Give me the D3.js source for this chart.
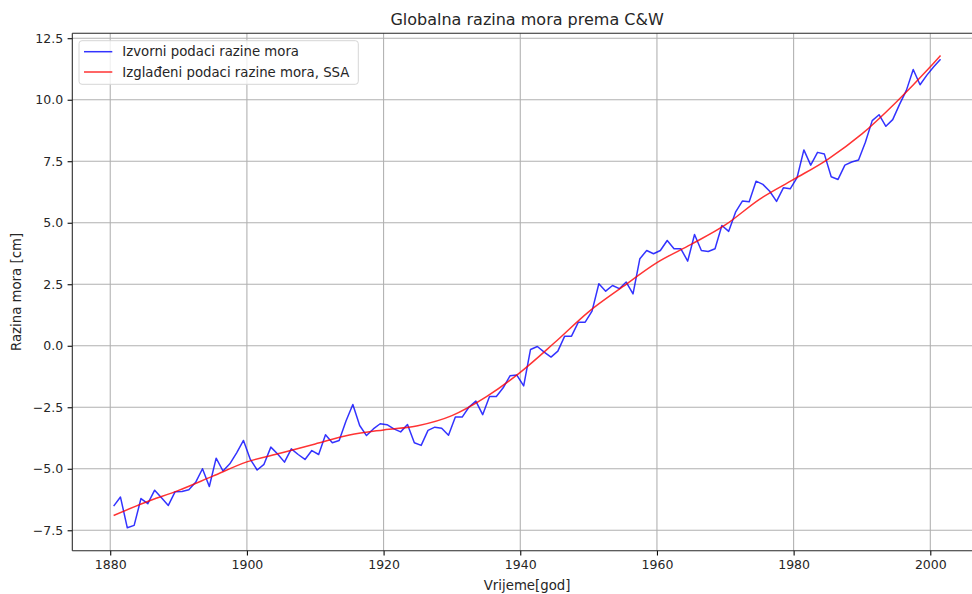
<!DOCTYPE html>
<html>
<head>
<meta charset="utf-8">
<script src="https://cdn.jsdelivr.net/npm/d3@7/dist/d3.min.js"></script>
<style>
  html, body { margin: 0; padding: 0; background: #fff; }
  svg { display: block; font-family: "DejaVu Sans", sans-serif; }
</style>
</head>
<body>
<svg id="chart" width="972" height="594"></svg>
<script>
// ---- data ----
const firstYear = 1880.5;
const seaLevel = [
  -6.52, -6.15, -7.40, -7.30, -6.21, -6.42, -5.87, -6.18, -6.49, -5.93,
  -5.92, -5.85, -5.55, -5.00, -5.72, -4.57, -5.09, -4.80, -4.35, -3.85,
  -4.62, -5.05, -4.82, -4.12, -4.40, -4.73, -4.19, -4.42, -4.62, -4.26,
  -4.42, -3.62, -3.94, -3.85, -3.06, -2.39, -3.24, -3.65, -3.38, -3.17,
  -3.21, -3.38, -3.50, -3.20, -3.94, -4.05, -3.44, -3.31, -3.35, -3.64,
  -2.90, -2.90, -2.49, -2.25, -2.80, -2.06, -2.06, -1.71, -1.22, -1.19,
  -1.63, -0.15, -0.03, -0.26, -0.46, -0.22, 0.39, 0.39, 0.96, 0.96,
  1.41, 2.52, 2.22, 2.45, 2.32, 2.59, 2.11, 3.54, 3.87, 3.74,
  3.87, 4.28, 3.94, 3.94, 3.44, 4.52, 3.87, 3.83, 3.94, 4.89,
  4.65, 5.43, 5.88, 5.85, 6.69, 6.56, 6.28, 5.87, 6.42, 6.38,
  6.83, 7.96, 7.34, 7.86, 7.79, 6.87, 6.76, 7.34, 7.47, 7.55,
  8.27, 9.15, 9.39, 8.92, 9.19, 9.81, 10.38, 11.23, 10.61, 11.00,
  11.34, 11.65
];
const smoothYears = [1880.5, 1885, 1890, 1895, 1900, 1905, 1910, 1915, 1920, 1925,
  1930, 1935, 1940, 1945, 1950, 1955, 1960, 1965, 1970, 1975, 1980, 1985, 1990, 1995, 2000, 2001.5];
const smoothLevel = [-6.90, -6.38, -5.88, -5.30, -4.72, -4.36, -3.99, -3.63, -3.42, -3.25,
  -2.84, -2.08, -1.08, 0.12, 1.38, 2.40, 3.38, 4.12, 4.91, 5.95, 6.76, 7.58, 8.61, 9.90, 11.34, 11.80];
const xTicks = [1880, 1900, 1920, 1940, 1960, 1980, 2000];
const yTicks = [-7.5, -5.0, -2.5, 0.0, 2.5, 5.0, 7.5, 10.0, 12.5];
const titleText = "Globalna razina mora prema C&W";
const xLabel = "Vrijeme[god]";
const yLabel = "Razina mora [cm]";
const legendLabels = ["Izvorni podaci razine mora", "Izglađeni podaci razine mora, SSA"];

// ---- layout ----
const L = 72.3, R = 981.9, T = 33.3, B = 550.7;
const svg = d3.select("#chart");

const x = d3.scaleLinear().domain([1874.45, 2007.55]).range([L, R]);
const y = d3.scaleLinear().domain([-8.33, 12.70]).range([B, T]);

const blueData = seaLevel.map((v, i) => ({ t: firstYear + i, v }));
const redData = smoothYears.map((t, i) => ({ t, v: smoothLevel[i] }));

svg.append("defs").append("clipPath").attr("id", "clip")
  .append("rect").attr("x", L).attr("y", T).attr("width", R - L).attr("height", B - T);

// grid
const grid = svg.append("g");
grid.selectAll(".gx").data(xTicks).join("line")
  .attr("x1", d => x(d)).attr("x2", d => x(d)).attr("y1", T).attr("y2", B)
  .attr("stroke", "#b0b0b0").attr("stroke-width", 1.07);
grid.selectAll(".gy").data(yTicks).join("line")
  .attr("x1", L).attr("x2", R).attr("y1", d => y(d)).attr("y2", d => y(d))
  .attr("stroke", "#b0b0b0").attr("stroke-width", 1.07);

// lines
const line = d3.line().x(d => x(d.t)).y(d => y(d.v));
const plot = svg.append("g").attr("clip-path", "url(#clip)");
plot.append("path").datum(blueData).attr("d", line)
  .attr("fill", "none").attr("stroke", "blue").attr("stroke-opacity", 0.8)
  .attr("stroke-width", 1.5).attr("stroke-linejoin", "round");
plot.append("path").datum(redData).attr("d", line.curve(d3.curveMonotoneX))
  .attr("fill", "none").attr("stroke", "red").attr("stroke-opacity", 0.8)
  .attr("stroke-width", 1.5);

// axes
const fmt = d => d3.format(".1f")(d).replace("-", "\u2212");
const xAxis = svg.append("g").attr("transform", `translate(0,${B})`)
  .call(d3.axisBottom(x).tickValues(xTicks).tickFormat(d3.format("d")).tickSize(4.7).tickPadding(4.5));
const yAxis = svg.append("g").attr("transform", `translate(${L},0)`)
  .call(d3.axisLeft(y).tickValues(yTicks).tickFormat(fmt).tickSize(4.7).tickPadding(4.5));
[xAxis, yAxis].forEach(a => {
  a.select(".domain").remove();
  a.selectAll(".tick line").attr("stroke", "#000").attr("stroke-width", 1.07);
  a.selectAll(".tick text").attr("fill", "#262626").style("font-size", "12.5px")
    .style("font-family", "'DejaVu Sans', sans-serif");
});

// spines
const sp = svg.append("g").attr("stroke", "#262626").attr("stroke-width", 1.07);
sp.append("line").attr("x1", L).attr("x2", L).attr("y1", T).attr("y2", B);
sp.append("line").attr("x1", L).attr("x2", R).attr("y1", B).attr("y2", B);
sp.append("line").attr("x1", L).attr("x2", R).attr("y1", T).attr("y2", T);
sp.append("line").attr("x1", R).attr("x2", R).attr("y1", T).attr("y2", B);

// title and labels
svg.append("text").attr("x", (L + R) / 2).attr("y", 24.7).attr("text-anchor", "middle")
  .style("font-size", "16px").attr("fill", "#262626").text(titleText);
svg.append("text").attr("x", (L + R) / 2).attr("y", 590).attr("text-anchor", "middle")
  .style("font-size", "13.3px").attr("fill", "#262626").text(xLabel);
svg.append("text").attr("transform", `translate(21,${(T + B) / 2}) rotate(-90)`)
  .attr("text-anchor", "middle").style("font-size", "13.3px").attr("fill", "#262626").text(yLabel);

// legend
const lg = svg.append("g");
lg.append("rect").attr("x", 79).attr("y", 40.7).attr("width", 279.3).attr("height", 43.6)
  .attr("rx", 3).attr("fill", "#fff").attr("fill-opacity", 0.8)
  .attr("stroke", "#d6d6d6").attr("stroke-width", 1);
const legColors = ["blue", "red"];
const legY = [51.7, 72];
legendLabels.forEach((lab, i) => {
  lg.append("line").attr("x1", 84).attr("x2", 112.3).attr("y1", legY[i]).attr("y2", legY[i])
    .attr("stroke", legColors[i]).attr("stroke-opacity", 0.8).attr("stroke-width", 1.5);
  lg.append("text").attr("x", 122.3).attr("y", legY[i] + 4.6)
    .style("font-size", "13.3px").attr("fill", "#262626").text(lab);
});
</script>
</body>
</html>
